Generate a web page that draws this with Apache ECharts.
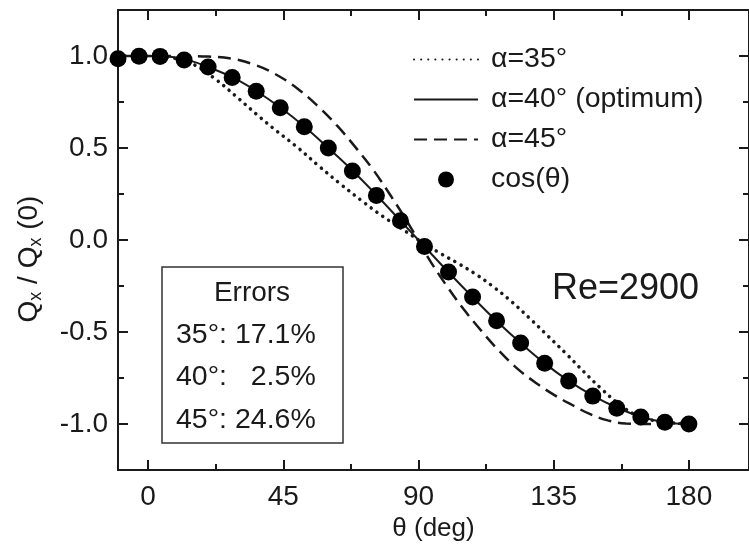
<!DOCTYPE html>
<html>
<head>
<meta charset="utf-8">
<script src="https://cdn.jsdelivr.net/npm/echarts@6/dist/echarts.min.js"></script>
<style>
html,body{margin:0;padding:0;background:#fff;}
#chart{width:749px;height:547px;}
</style>
</head>
<body>
<div id="chart"></div>
<script>
// ---- data ----
const dotTheta = [-10, -3, 4, 12, 20, 28, 36, 44, 52, 60, 68, 76, 84, 92, 100, 108, 116, 124, 132, 140, 148, 156, 164, 172, 180];
const dotValue = [0.985, 0.999, 0.998, 0.978, 0.940, 0.883, 0.809, 0.719, 0.616, 0.500, 0.375, 0.242, 0.105, -0.035, -0.174, -0.309, -0.438, -0.559, -0.669, -0.766, -0.848, -0.914, -0.961, -0.990, -1.000];

const a40Theta = [-10, 0, 8, 14, 20, 28, 36, 44, 52, 60, 68, 76, 84, 92, 100, 108, 116, 124, 132, 140, 148, 156, 164, 172, 180];
const a40Value = [1.0, 1.0, 0.995, 0.975, 0.94, 0.885, 0.81, 0.72, 0.617, 0.50, 0.378, 0.245, 0.105, -0.035, -0.175, -0.31, -0.44, -0.56, -0.67, -0.765, -0.845, -0.91, -0.96, -0.99, -1.0];

const a35Theta = [-10, 0, 8, 15, 22, 29, 36, 43, 50, 57, 64, 71, 78, 85, 91, 97, 103, 109, 115, 121, 127, 133, 139, 145, 151, 157, 163, 170, 180];
const a35Value = [1.0, 1.0, 0.99, 0.955, 0.88, 0.785, 0.685, 0.59, 0.50, 0.40, 0.305, 0.215, 0.13, 0.055, -0.01, -0.07, -0.125, -0.185, -0.255, -0.335, -0.425, -0.52, -0.615, -0.715, -0.81, -0.895, -0.955, -0.985, -1.0];

const a45Theta = [-10, 0, 10, 20, 28, 35, 42, 50, 57, 63, 69, 75, 81, 87, 93, 99, 105, 111, 117, 123, 129, 135, 141, 147, 153, 159, 166, 172, 180];
const a45Value = [1.0, 1.0, 1.0, 0.997, 0.985, 0.955, 0.905, 0.82, 0.72, 0.62, 0.505, 0.38, 0.235, 0.08, -0.09, -0.24, -0.375, -0.495, -0.605, -0.70, -0.775, -0.84, -0.895, -0.945, -0.98, -0.997, -1.0, -0.998, -1.0];

const xMajorTicks = [0, 45, 90, 135, 180];
const xMinorTicks = [22.5, 67.5, 112.5, 157.5];
const yMajorTicks = [-1.0, -0.5, 0.0, 0.5, 1.0];
const yMinorTicks = [-0.75, -0.25, 0.25, 0.75];

const seriesNames = ['\u03b1=35\u00b0', '\u03b1=40\u00b0 (optimum)', '\u03b1=45\u00b0', 'cos(\u03b8)'];
const errorLines = ['Errors', '35\u00b0: 17.1%', '40\u00b0:   2.5%', '45\u00b0: 24.6%'];
const annotation = 'Re=2900';
const xTitle = '\u03b8 (deg)';
const yTitle = '{q|Q}{s|x}{q| / Q}{s|x}{q| (0)}';

// ---- chart ----
const FF = '"Liberation Sans", Arial, Helvetica, sans-serif';
const INK = '#1a1a1a';
const pairs = (xs, ys) => xs.map((x, i) => [x, ys[i]]);

function xAx(pos, ticks, len, main) {
  return {
    type: 'value', min: -10, max: 200, position: pos, offset: 0,
    axisLine: { show: main, onZero: false, lineStyle: { color: INK, width: 2 } },
    axisTick: { show: true, inside: true, length: len, customValues: ticks, lineStyle: { color: INK, width: 2 } },
    axisLabel: main && pos === 'bottom'
      ? { show: true, customValues: xMajorTicks, fontSize: 28, margin: 13, color: INK, fontFamily: FF }
      : { show: false },
    splitLine: { show: false },
    name: main && pos === 'bottom' ? xTitle : '',
    nameLocation: 'middle', nameGap: 44,
    nameTextStyle: { fontSize: 26, color: INK, fontFamily: FF }
  };
}
function yAx(pos, ticks, len, main) {
  return {
    type: 'value', min: -1.25, max: 1.25, position: pos, offset: 0,
    axisLine: { show: main, onZero: false, lineStyle: { color: INK, width: 2 } },
    axisTick: { show: true, inside: true, length: len, customValues: ticks, lineStyle: { color: INK, width: 2 } },
    axisLabel: main && pos === 'left'
      ? { show: true, customValues: yMajorTicks, fontSize: 28, margin: 10, color: INK, fontFamily: FF,
          formatter: v => Number(v).toFixed(1) }
      : { show: false },
    splitLine: { show: false }
  };
}

const chart = echarts.init(document.getElementById('chart'), null, { renderer: 'canvas' });
chart.setOption({
  animation: false,
  backgroundColor: '#fff',
  grid: { left: 118, right: -4, top: 10, bottom: 75, containLabel: false },
  xAxis: [
    xAx('bottom', xMajorTicks, 10, true),
    xAx('bottom', xMinorTicks, 6, false),
    xAx('top', xMajorTicks, 10, true),
    xAx('top', xMinorTicks, 6, false)
  ],
  yAxis: [
    yAx('left', yMajorTicks, 10, true),
    yAx('left', yMinorTicks, 6, false),
    yAx('right', yMajorTicks, 10, true),
    yAx('right', yMinorTicks, 6, false)
  ],
  legend: {
    orient: 'vertical', left: 408, top: 40,
    itemWidth: 64, itemHeight: 16, itemGap: 11,
    textStyle: { fontSize: 28.5, color: INK, fontFamily: FF, padding: [0, 0, 0, 8] },
    data: [
      { name: seriesNames[0], itemStyle: { opacity: 0 } },
      { name: seriesNames[1], itemStyle: { opacity: 0 } },
      { name: seriesNames[2], itemStyle: { opacity: 0 } },
      { name: seriesNames[3] }
    ]
  },
  series: [
    { name: seriesNames[0], type: 'line', data: pairs(a35Theta, a35Value), symbol: 'none',
      smooth: 0.4, z: 2, itemStyle: { color: INK },
      lineStyle: { color: INK, width: 3.5, type: [0.1, 7], cap: 'round' } },
    { name: seriesNames[1], type: 'line', data: pairs(a40Theta, a40Value), symbol: 'none',
      smooth: 0.4, z: 3, itemStyle: { color: INK },
      lineStyle: { color: INK, width: 2 } },
    { name: seriesNames[2], type: 'line', data: pairs(a45Theta, a45Value), symbol: 'none',
      smooth: 0.4, z: 2, itemStyle: { color: INK },
      lineStyle: { color: INK, width: 2.5, type: [13, 7] } },
    { name: seriesNames[3], type: 'scatter', data: pairs(dotTheta, dotValue),
      symbol: 'circle', symbolSize: 17, z: 4, clip: true,
      itemStyle: { color: '#000', opacity: 1 } }
  ],
  graphic: [
    { type: 'text', x: 29, y: 259, rotation: Math.PI / 2,
      style: { text: yTitle, align: 'center', verticalAlign: 'middle', fill: INK, fontFamily: FF,
        rich: {
          q: { fontSize: 28, lineHeight: 32, fill: INK, fontFamily: FF },
          s: { fontSize: 18, lineHeight: 18, verticalAlign: 'bottom', fill: INK, fontFamily: FF }
        } }, z: 10 },
    { type: 'rect', shape: { x: 162, y: 267, width: 181, height: 176 },
      style: { fill: 'none', stroke: '#333', lineWidth: 1.5 }, z: 10 },
    { type: 'text', x: 252, y: 293, style: { text: errorLines[0], fontSize: 28, fill: INK, fontFamily: FF, align: 'center', verticalAlign: 'middle' }, z: 10 },
    { type: 'text', x: 176, y: 335, style: { text: errorLines[1], fontSize: 28.5, fill: INK, fontFamily: FF, align: 'left', verticalAlign: 'middle' }, z: 10 },
    { type: 'text', x: 176, y: 377, style: { text: errorLines[2], fontSize: 28.5, fill: INK, fontFamily: FF, align: 'left', verticalAlign: 'middle' }, z: 10 },
    { type: 'text', x: 176, y: 420, style: { text: errorLines[3], fontSize: 28.5, fill: INK, fontFamily: FF, align: 'left', verticalAlign: 'middle' }, z: 10 },
    { type: 'text', x: 552, y: 289, style: { text: annotation, fontSize: 36, fill: INK, fontFamily: FF, align: 'left', verticalAlign: 'middle' }, z: 10 }
  ]
});
</script>
</body>
</html>
